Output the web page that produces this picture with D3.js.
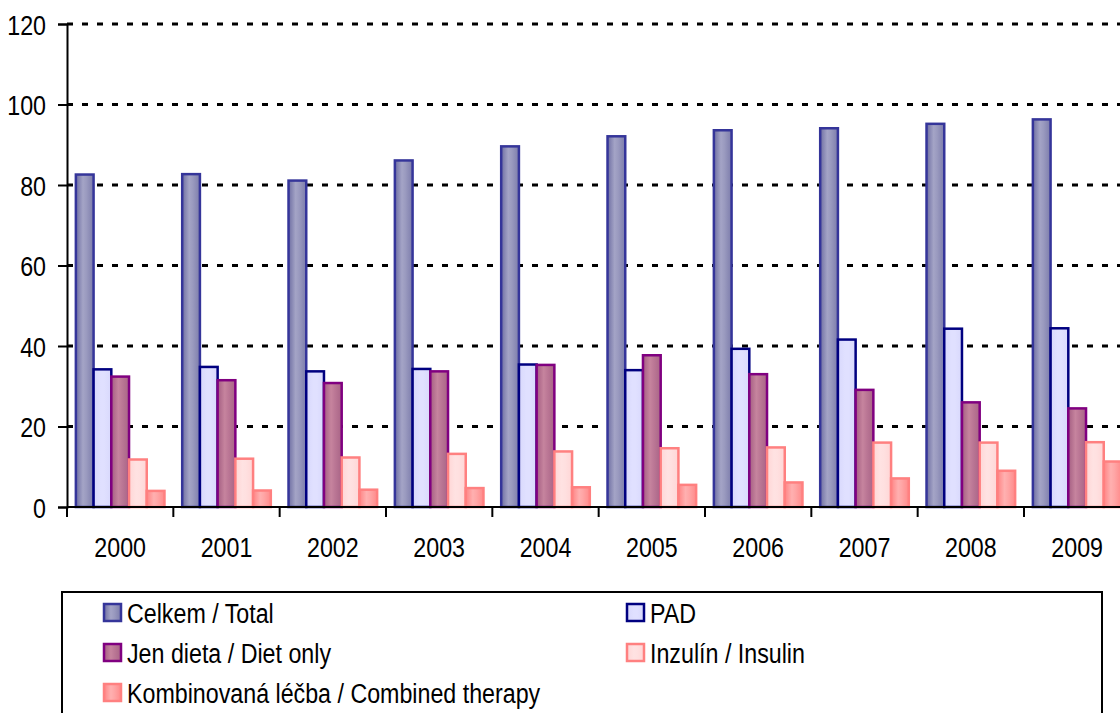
<!DOCTYPE html>
<html>
<head>
<meta charset="utf-8">
<script src="https://cdn.jsdelivr.net/npm/d3@7"></script>
<style>
  html, body { margin: 0; padding: 0; background: #fff; overflow: hidden; }
  svg { display: block; font-family: Arial, "Liberation Sans", sans-serif; }
  .lbl { font-size: 28px; fill: #000; transform-box: fill-box; }
</style>
</head>
<body>
<svg id="chart" width="1120" height="713"></svg>
<script>
const years = ['2000','2001','2002','2003','2004','2005','2006','2007','2008','2009'];
const total    = [82.6, 82.7, 81.1, 86.1, 89.6, 92.1, 93.6, 94.1, 95.2, 96.3];
const pad      = [34.2, 34.8, 33.7, 34.3, 35.4, 34.0, 39.3, 41.6, 44.3, 44.4];
const diet     = [32.4, 31.5, 30.8, 33.7, 35.3, 37.7, 33.0, 29.1, 26.0, 24.5];
const insulin  = [11.8, 12.0, 12.3, 13.2, 13.8, 14.6, 14.8, 16.0, 16.0, 16.1];
const combined = [ 4.0,  4.1,  4.3,  4.7,  4.9,  5.5,  6.1,  7.1,  9.0, 11.3];
const seriesNames = ['Celkem / Total', 'PAD', 'Jen dieta / Diet only', 'Inzulín / Insulin', 'Kombinovaná léčba / Combined therapy'];
const seriesValues = [total, pad, diet, insulin, combined];
const yTicks = [0, 20, 40, 60, 80, 100, 120];

const styles = [
  {stroke: '#35359a', stops: ['#6e6ea2', '#a4a4c6', '#9a9abf', '#7c7cab']},
  {stroke: '#000080', stops: ['#d8d8fc', '#e0e0ff', '#e0e0ff', '#d8d8fc']},
  {stroke: '#800080', stops: ['#a45e82', '#c6849e', '#bc7896', '#a86486']},
  {stroke: '#ff8080', stops: ['#ffd6d6', '#ffe2e2', '#ffe0e0', '#ffd6d6']},
  {stroke: '#ff8080', stops: ['#ff8484', '#ffb0b0', '#ffa6a6', '#ff8a8a']}
];
const SX = 0.83;

const svg = d3.select('#chart');
const defs = svg.append('defs');
styles.forEach((s, i) => {
  const g = defs.append('linearGradient').attr('id', 'g' + i)
    .attr('x1', 0).attr('x2', 1).attr('y1', 0).attr('y2', 0);
  [0, 0.4, 0.6, 1].forEach((o, k) => g.append('stop').attr('offset', o).attr('stop-color', s.stops[k]));
});

const plotLeft = 67, plotRight = 1130.33, plotTop = 24, plotBottom = 507;
const y = d3.scaleLinear().domain([0, 120]).range([plotBottom, plotTop]);
const x0 = d3.scaleBand().domain(years).range([plotLeft, plotRight]).padding(0);
const x1 = d3.scaleBand().domain(d3.range(seriesNames.length)).range([0, x0.bandwidth()])
  .paddingInner(0).paddingOuter(0.5);

// gridlines
svg.append('g').selectAll('line').data(yTicks.filter(d => d > 0)).join('line')
  .attr('x1', plotLeft).attr('x2', 1120)
  .attr('y1', d => y(d)).attr('y2', d => y(d))
  .attr('stroke', '#000').attr('stroke-width', 3).attr('stroke-dasharray', '6,9');

// bars
const groups = svg.append('g').selectAll('g').data(years).join('g')
  .attr('transform', d => `translate(${x0(d)},0)`);
groups.selectAll('rect').data((d, i) => seriesValues.map((vals, s) => ({s, v: vals[i]}))).join('rect')
  .attr('x', d => x1(d.s))
  .attr('width', x1.bandwidth())
  .attr('y', d => y(d.v))
  .attr('height', d => y(0) - y(d.v))
  .attr('fill', d => `url(#g${d.s})`)
  .attr('stroke', d => styles[d.s].stroke)
  .attr('stroke-width', 2.5);

// y axis
const yAxis = svg.append('g').attr('transform', `translate(${plotLeft},0)`)
  .call(d3.axisLeft(y).tickValues(yTicks).tickSize(9).tickPadding(12));
yAxis.attr('font-size', null).attr('font-family', null);
yAxis.select('.domain').attr('stroke', '#000').attr('stroke-width', 2);
yAxis.selectAll('.tick line').attr('stroke', '#000').attr('stroke-width', 2);
yAxis.selectAll('.tick text')
  .attr('class', 'lbl')
  .attr('dy', '0.36em')
  .style('transform-origin', 'right center').style('transform', `scaleX(${SX})`);

// x axis
svg.append('line').attr('x1', plotLeft).attr('x2', 1120).attr('y1', plotBottom).attr('y2', plotBottom)
  .attr('stroke', '#000').attr('stroke-width', 2);
svg.append('g').selectAll('line').data(years).join('line')
  .attr('x1', d => x0(d)).attr('x2', d => x0(d))
  .attr('y1', plotBottom).attr('y2', plotBottom + 10)
  .attr('stroke', '#000').attr('stroke-width', 2);
svg.append('g').selectAll('text').data(years).join('text')
  .attr('class', 'lbl')
  .attr('x', d => x0(d) + x0.bandwidth() / 2)
  .attr('y', 557)
  .attr('text-anchor', 'middle')
  .style('transform-origin', 'center').style('transform', `scaleX(${SX})`)
  .text(d => d);

// legend
svg.append('rect').attr('x', 62).attr('y', 592).attr('width', 1040).attr('height', 200)
  .attr('fill', 'none').attr('stroke', '#000').attr('stroke-width', 2);
const legendPos = [
  {x: 104, y: 604}, {x: 627, y: 604},
  {x: 104, y: 644}, {x: 627, y: 644},
  {x: 104, y: 684}
];
const leg = svg.append('g').selectAll('g').data(seriesNames).join('g')
  .attr('transform', (d, i) => `translate(${legendPos[i].x},${legendPos[i].y})`);
leg.append('rect').attr('width', 17).attr('height', 17)
  .attr('fill', (d, i) => `url(#g${i})`)
  .attr('stroke', (d, i) => styles[i].stroke).attr('stroke-width', 2.5);
leg.append('text').attr('class', 'lbl').attr('x', 23).attr('y', 19)
  .style('transform-origin', 'left center').style('transform', `scaleX(${SX})`)
  .text(d => d);
</script>
</body>
</html>
